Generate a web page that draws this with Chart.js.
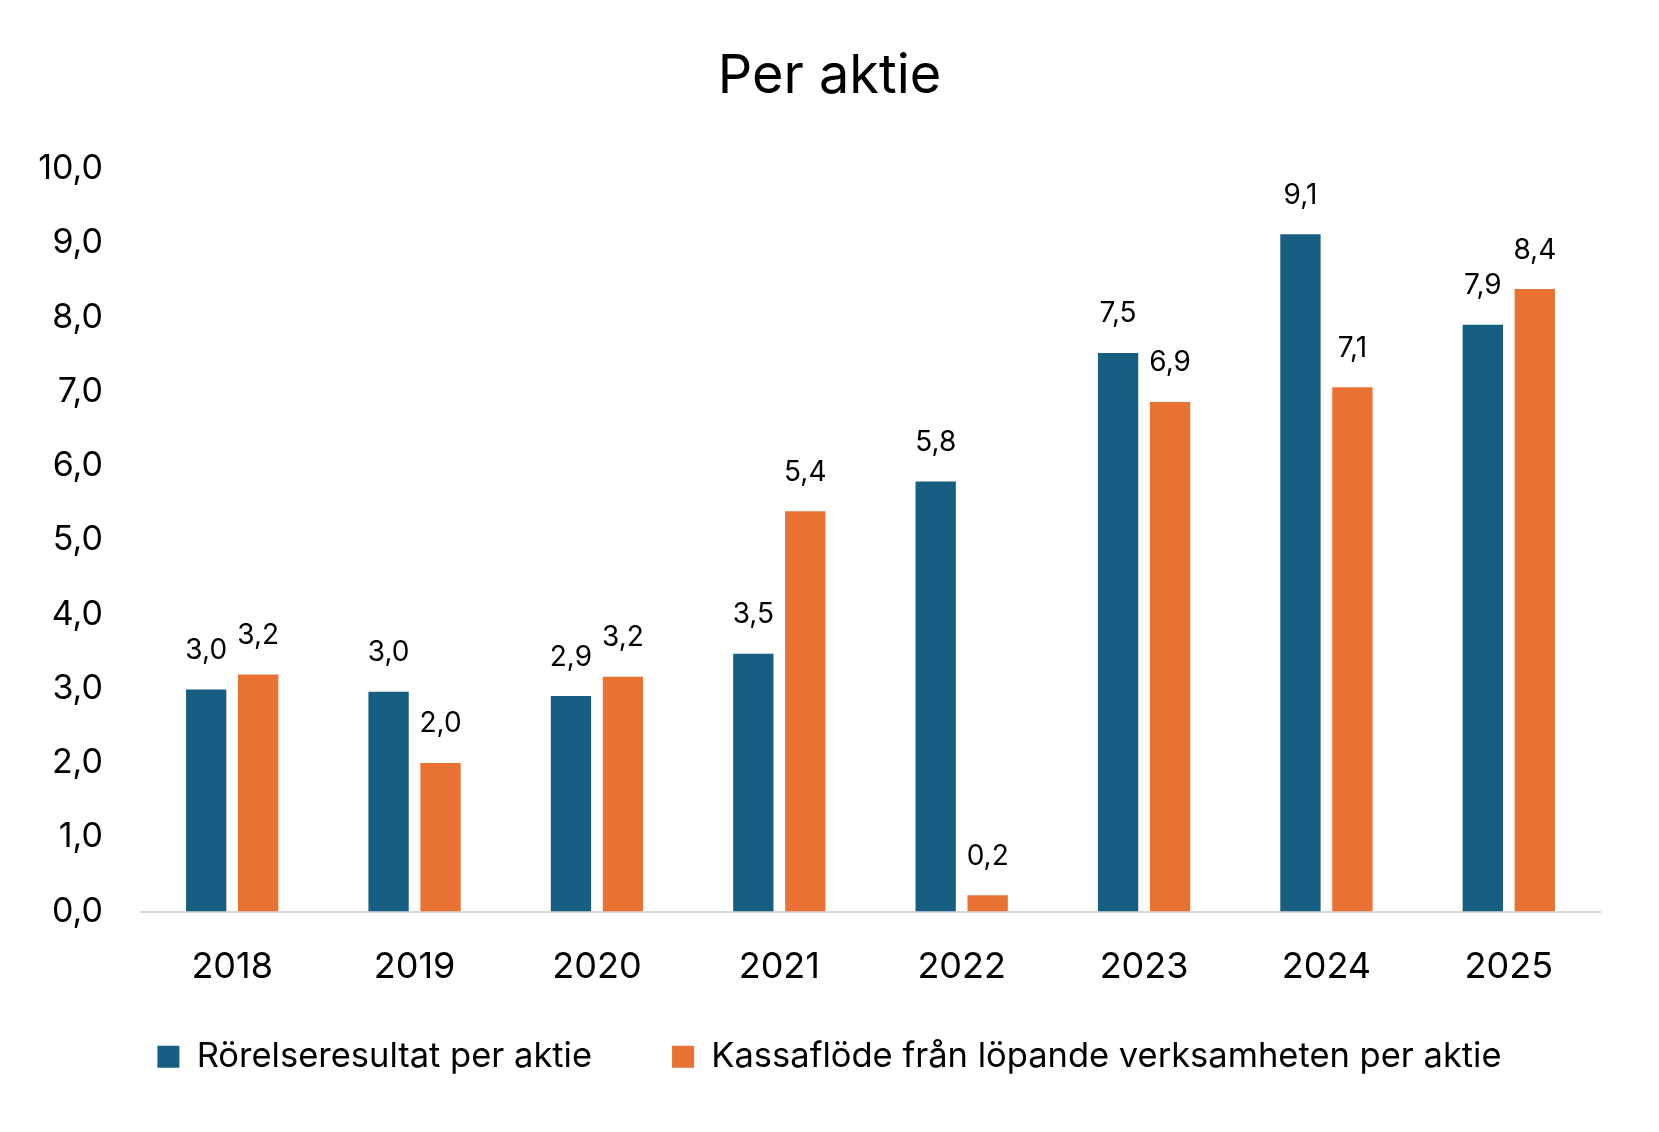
<!DOCTYPE html>
<html>
<head>
<meta charset="utf-8">
<script src="https://cdn.jsdelivr.net/npm/chart.js"></script>
<style>
  html, body { margin: 0; padding: 0; background: #fff; }
  #wrap { width: 1659px; height: 1132px; position: relative; }
</style>
</head>
<body>
<div id="wrap"><canvas id="chart"></canvas></div>
<script>
// categories and series
const years = ['2018', '2019', '2020', '2021', '2022', '2023', '2024', '2025'];
const rorelseresultat = [2.99, 2.96, 2.9, 3.47, 5.79, 7.52, 9.12, 7.9];
const kassaflode = [3.19, 2.0, 3.16, 5.39, 0.22, 6.86, 7.06, 8.38];
const seriesNames = ['Rörelseresultat per aktie', 'Kassaflöde från löpande verksamheten per aktie'];
const yTicks = [0, 1, 2, 3, 4, 5, 6, 7, 8, 9, 10];

const blue = '#175F82';
const orange = '#E97132';

const fmt = v => v.toFixed(1).replace('.', ',');

// simple value labels above each bar
const barLabels = {
  id: 'barLabels',
  afterDatasetsDraw(chart) {
    const ctx = chart.ctx;
    ctx.save();
    ctx.font = '28px Inter';
    ctx.fillStyle = '#000';
    ctx.textAlign = 'center';
    ctx.textBaseline = 'middle';
    chart.data.datasets.forEach((ds, i) => {
      chart.getDatasetMeta(i).data.forEach((bar, j) => {
        ctx.fillText(fmt(ds.data[j]), bar.x, bar.y - 39);
      });
    });
    ctx.restore();
  }
};

// the big legend padding is only wanted between the items, so pull the legend up a bit
const legendLift = {
  id: 'legendLift',
  afterLayout(chart) {
    const lg = chart.legend;
    if (!lg) return;
    lg.top -= 30;
    lg.bottom -= 30;
  }
};

new Chart(document.getElementById('chart'), {
  type: 'bar',
  data: {
    labels: years,
    datasets: [
      { label: seriesNames[0], data: rorelseresultat, backgroundColor: blue },
      { label: seriesNames[1], data: kassaflode, backgroundColor: orange }
    ]
  },
  options: {
    responsive: true,
    maintainAspectRatio: false,
    animation: false,
    layout: { padding: { left: 0, right: 0, top: 0, bottom: 18 } },
    datasets: {
      bar: { categoryPercentage: 0.57, barPercentage: 0.776 }
    },
    scales: {
      x: {
        afterFit(scale) { scale.height = 78; },
        grid: { display: false, drawTicks: false },
        border: { display: true, color: '#d9d9d9', width: 2 },
        ticks: { color: '#000', font: { family: 'Inter', size: 36 }, padding: 34 }
      },
      y: {
        min: 0,
        max: 10,
        afterFit(scale) { scale.width = 141; },
        afterBuildTicks(scale) { scale.ticks = yTicks.map(v => ({ value: v })); },
        grid: { display: false, drawTicks: false },
        border: { display: false },
        ticks: {
          color: '#000',
          font: { family: 'Inter', size: 34 },
          padding: 38,
          callback: v => fmt(v)
        }
      },
      // empty right axis, keeps the plot off the right edge
      yRight: {
        position: 'right',
        afterFit(scale) { scale.width = 59; },
        grid: { display: false, drawTicks: false },
        border: { display: false },
        ticks: { display: false }
      }
    },
    plugins: {
      title: {
        display: true,
        text: 'Per aktie',
        color: '#000',
        font: { family: 'Inter', size: 54, weight: 'normal' },
        padding: { top: 44, bottom: 60 }
      },
      legend: {
        position: 'bottom',
        labels: {
          color: '#000',
          font: { family: 'Inter', size: 34.5 },
          boxWidth: 22,
          boxHeight: 22,
          padding: 80
        }
      },
      tooltip: { enabled: false }
    }
  },
  plugins: [barLabels, legendLift]
});
</script>
</body>
</html>
